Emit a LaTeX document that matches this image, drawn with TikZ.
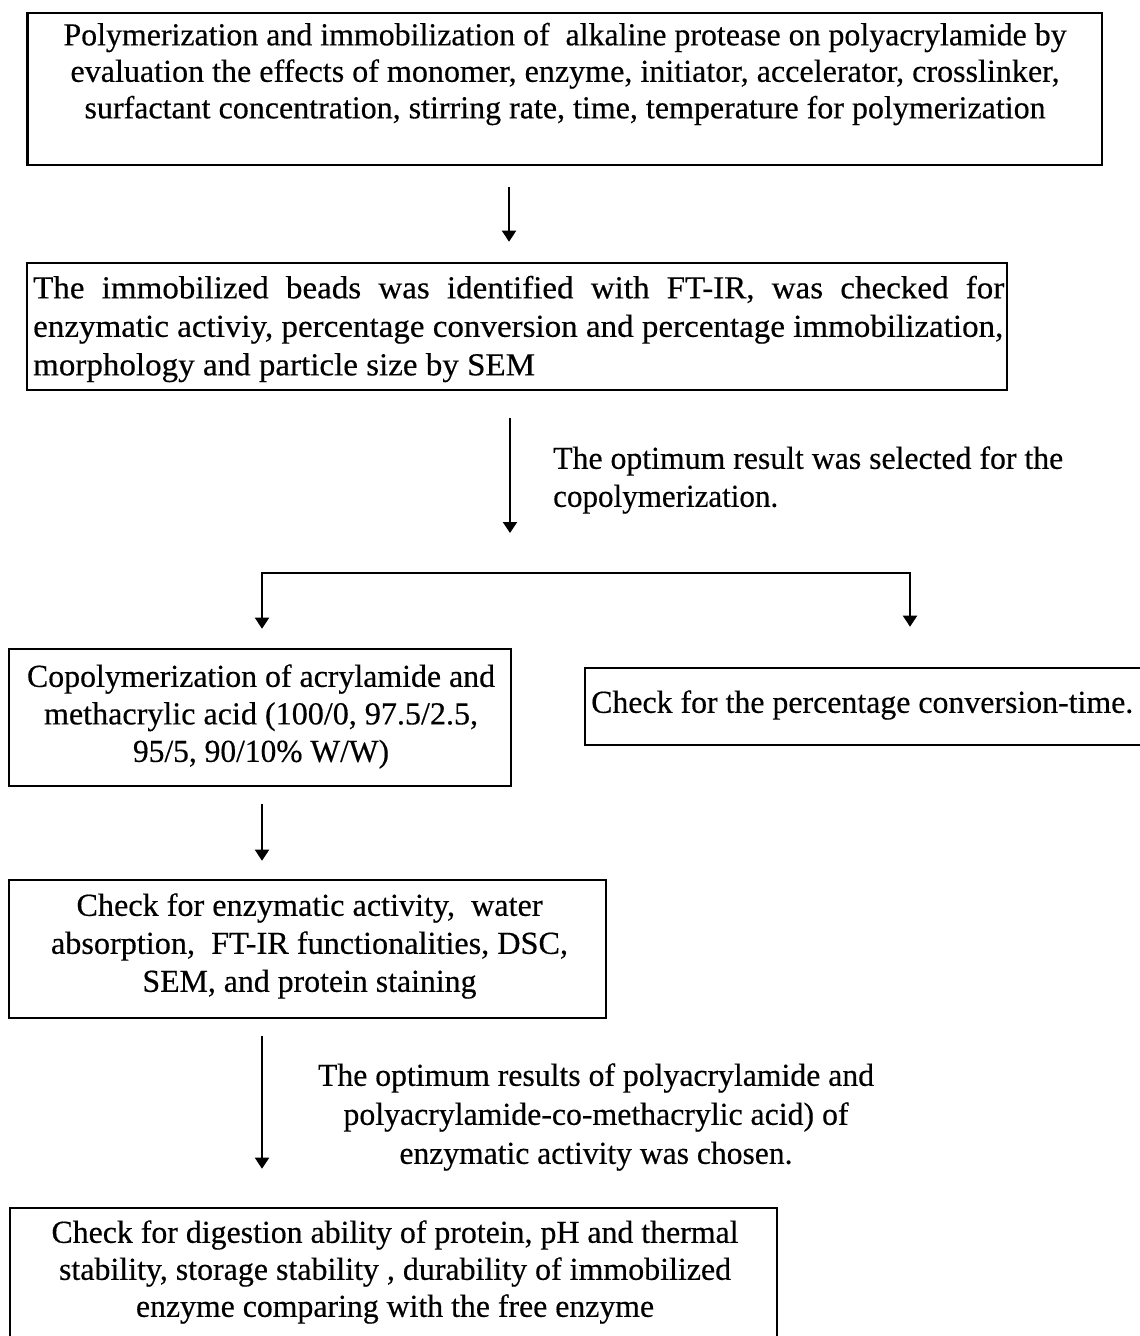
\documentclass[tikz,border=0pt]{standalone}
\usepackage{fontspec}
\setmainfont{Liberation Serif}[BoldFont={Liberation Serif}, BoldFeatures={FakeBold=0.4}]
\usepackage{graphicx}
\usetikzlibrary{arrows.meta,calc}
\newcommand\fitline[2]{\resizebox{#1pt}{\height}{\bfseries #2}}
\newlength\Lw
\newlength\Lwb
\newcommand\fbfac{1}
\begin{document}
\settowidth\Lw{\fontsize{32}{38}\selectfont\bfseries enzymatic activiy, percentage conversion and percentage immobilization,}%
\pgfmathsetmacro\fbfac{970/\Lw}%
\pgfmathsetlength\Lwb{971/\fbfac}%
\begin{tikzpicture}[x=1pt,y=-1pt,
  box/.style={draw, line width=2.6pt, inner sep=0pt},
  txt/.style={inner sep=0pt, align=center, font=\fontsize{32}{#1}\selectfont},
  arr/.style={line width=2pt, -{Triangle[length=11pt,width=14pt]}},
  arrboth/.style={line width=2pt, {Triangle[length=11pt,width=14pt]}-{Triangle[length=11pt,width=14pt]}}]
\useasboundingbox (0,0) rectangle (1140,1336);
\fill[white] (0,0) rectangle (1140,1336);

% boxes
\node[box, minimum width=1074.5pt, minimum height=152pt] (b1) at (564.75,89) {};
\node[box, minimum width=980pt, minimum height=127pt] (b2) at (517,326.5) {};
\node[box, minimum width=502pt, minimum height=137pt] (b3) at (260,717.5) {};
\node[box, minimum width=565pt, minimum height=77pt] (b4) at (867.5,706.5) {};
\node[box, minimum width=597pt, minimum height=138pt] (b5) at (307.5,949) {};
\node[box, minimum width=767pt, minimum height=142pt] (b6) at (393.5,1279) {};

% texts
\node[txt=36.5pt] (t1) at (565,74) {%
\fitline{1003}{Polymerization and immobilization of \ alkaline protease on polyacrylamide by}\\
\fitline{989}{evaluation the effects of monomer, enzyme, initiator, accelerator, crosslinker,}\\
\fitline{961}{surfactant concentration, stirring rate, time, temperature for polymerization}};

\node[inner sep=0pt, anchor=west] (t2) at (33,329) {\scalebox{\fbfac}[1]{\parbox{\Lwb}{\fontsize{32}{38.5}\selectfont\bfseries
\makebox[\Lwb][s]{The immobilized beads was identified with FT-IR, was checked for}\\
enzymatic activiy, percentage conversion and percentage immobilization,\\
morphology and particle size by SEM}}};

\node[txt=38pt, align=left, anchor=west] (l2) at (553,480) {%
\fitline{510}{The optimum result was selected for the}\\
\fitline{225}{copolymerization.}};

\node[txt=37.5pt] (t3) at (261,716.5) {%
\fitline{468}{Copolymerization of acrylamide and}\\
\fitline{434}{methacrylic acid (100/0, 97.5/2.5,}\\
\fitline{256}{95/5, 90/10\% W/W)}};

\node[txt=38pt, anchor=west] (t4) at (591,705) {\fitline{542}{Check for the percentage conversion-time.}};

\node[txt=38pt] (t5) at (309.5,946) {%
\fitline{466}{Check for enzymatic activity, \ water}\\
\fitline{517}{absorption, \ FT-IR functionalities, DSC,}\\
\fitline{334}{SEM, and protein staining}};

\node[txt=39pt] (l4) at (596,1117) {%
\fitline{556}{The optimum results of polyacrylamide and}\\
\fitline{505}{polyacrylamide-co-methacrylic acid) of}\\
\fitline{393}{enzymatic activity was chosen.}};

\node[txt=37pt] (t6) at (395,1272) {%
\fitline{687}{Check for digestion ability of protein, pH and thermal}\\
\fitline{672}{stability, storage stability , durability of immobilized}\\
\fitline{518}{enzyme comparing with the free enzyme}};

% connector coordinates
\coordinate (x1) at (509,0);
\coordinate (x2) at (510,0);
\coordinate (barL) at (262,573);
\coordinate (barR) at (910,573);
\coordinate (x3) at (262,0);

\draw[arr, shorten <=21pt, shorten >=20pt] (b1.south -| x1) -- (b2.north -| x1);
\draw[arr, shorten <=27pt, shorten >=40pt] (b2.south -| x2) -- (x2 |- barL);
\draw[arrboth, shorten <=19pt, shorten >=40pt] (barL |- b3.north) -- (barL) -- (barR) -- (barR |- b4.north);
\draw[arr, shorten <=17pt, shorten >=18pt] (b3.south -| x3) -- (b5.north -| x3);
\draw[arr, shorten <=17pt, shorten >=38pt] (b5.south -| x3) -- (b6.north -| x3);
\end{tikzpicture}
\end{document}
